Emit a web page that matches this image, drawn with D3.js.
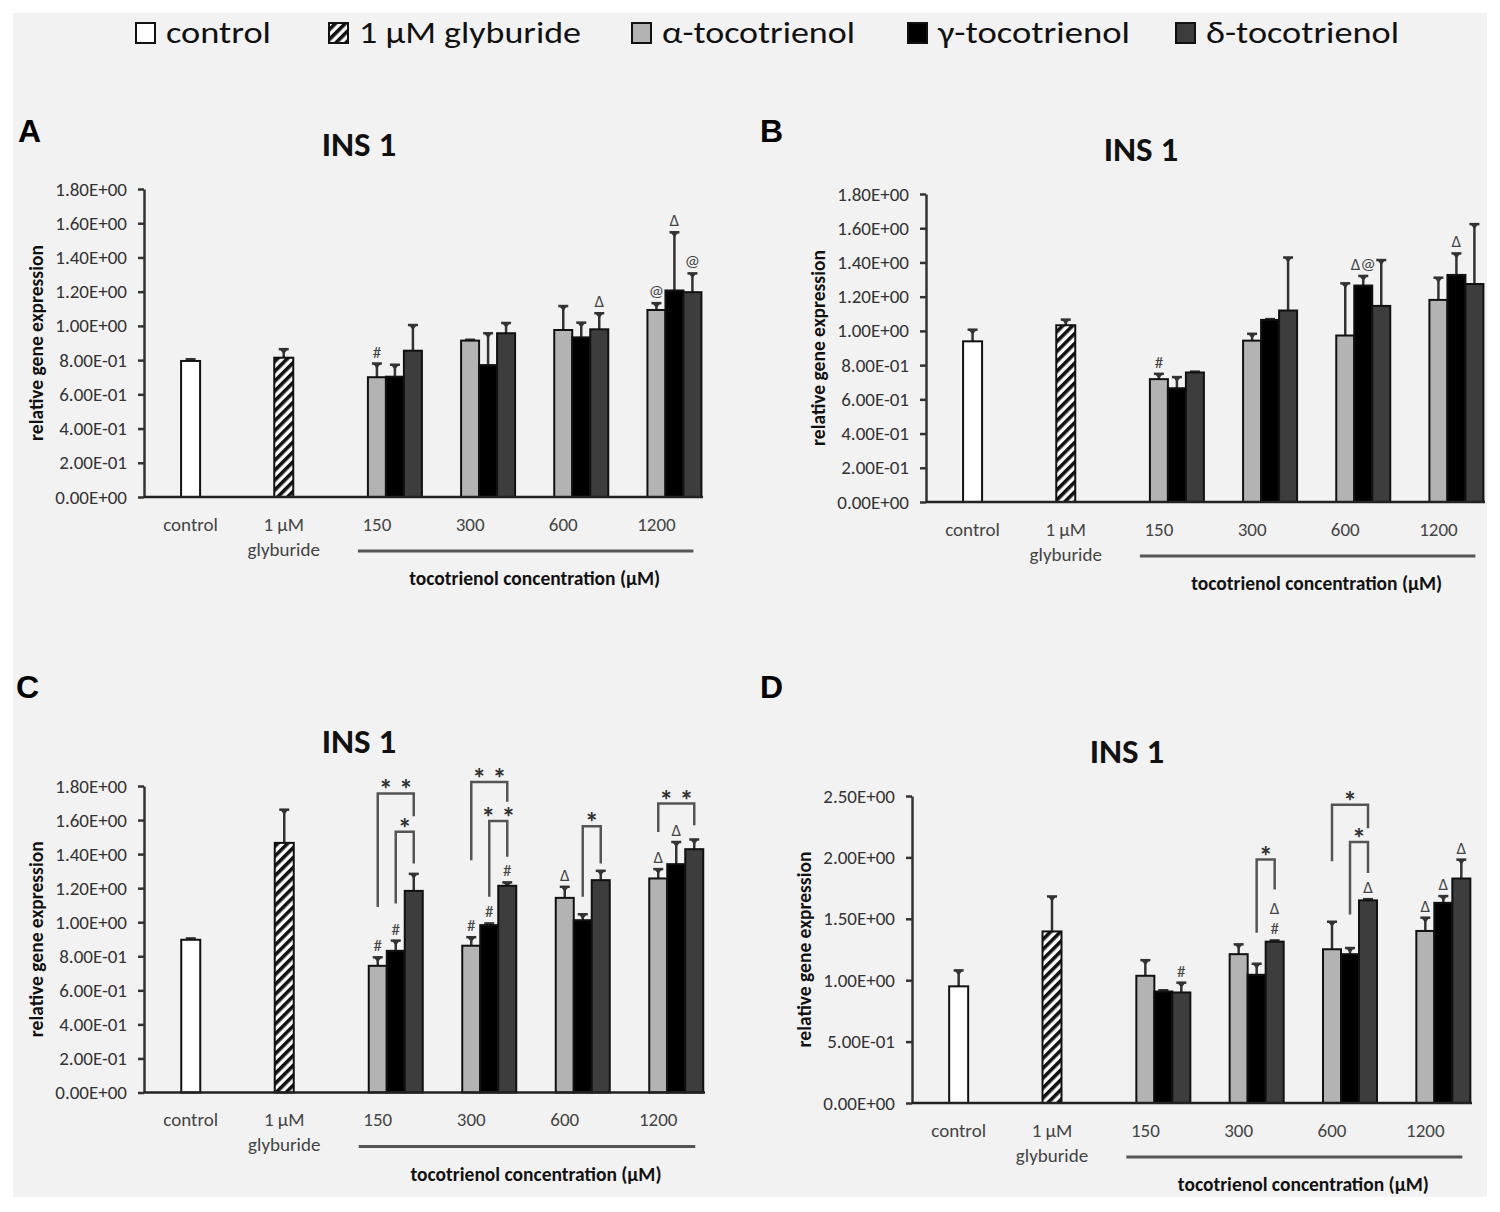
<!DOCTYPE html>
<html>
<head>
<meta charset="utf-8">
<script src="https://cdn.jsdelivr.net/npm/d3@7.9.0/dist/d3.min.js"></script>
<style>
  body { margin: 0; background: #fff; }
  svg { display: block; font-family: "Carlito", "Open Sans", sans-serif; }
</style>
</head>
<body>
<svg id="chart" width="1500" height="1212"></svg>
<script>
// categories on every x axis
const categories = ['control', 'glyburide', '150', '300', '600', '1200'];
const doses = ['150', '300', '600', '1200'];
const legendNames = ['control', '1 µM glyburide', 'α-tocotrienol', 'γ-tocotrienol', 'δ-tocotrienol'];
const ticks18 = [0, 0.2, 0.4, 0.6, 0.8, 1.0, 1.2, 1.4, 1.6, 1.8];
const ticks25 = [0, 0.5, 1.0, 1.5, 2.0, 2.5];

// panel A  (singles = control, glyburide)
const aSingles = [0.795, 0.814];
const aSinglesErr = [0.01, 0.05];
const aAlpha = [0.700, 0.914, 0.976, 1.093];
const aAlphaErr = [0.08, 0.005, 0.14, 0.04];
const aGamma = [0.703, 0.771, 0.933, 1.207];
const aGammaErr = [0.07, 0.186, 0.086, 0.34];
const aDelta = [0.855, 0.957, 0.980, 1.197];
const aDeltaErr = [0.15, 0.06, 0.094, 0.11];
const aMarks = [['150', 0, '#'], ['600', 2, 'Δ'], ['1200', 0, '@'], ['1200', 1, 'Δ'], ['1200', 2, '@']];
const aBrackets = [];

// panel B
const bSingles = [0.939, 1.033];
const bSinglesErr = [0.068, 0.033];
const bAlpha = [0.718, 0.943, 0.973, 1.181];
const bAlphaErr = [0.031, 0.04, 0.305, 0.13];
const bGamma = [0.665, 1.064, 1.265, 1.327];
const bGammaErr = [0.065, 0.005, 0.056, 0.126];
const bDelta = [0.757, 1.119, 1.146, 1.274];
const bDeltaErr = [0.005, 0.31, 0.268, 0.35];
const bMarks = [['150', 0, '#'], ['600', 1, 'Δ@'], ['1200', 1, 'Δ']];
const bBrackets = [];

// panel C
const cSingles = [0.897, 1.466];
const cSinglesErr = [0.008, 0.195];
const cAlpha = [0.744, 0.862, 1.143, 1.257];
const cAlphaErr = [0.05, 0.05, 0.065, 0.055];
const cGamma = [0.832, 0.983, 1.012, 1.341];
const cGammaErr = [0.06, 0.01, 0.035, 0.13];
const cDelta = [1.184, 1.214, 1.247, 1.429];
const cDeltaErr = [0.10, 0.02, 0.055, 0.057];
const cMarks = [['150', 0, '#'], ['150', 1, '#'], ['300', 0, '#'], ['300', 1, '#'], ['300', 2, '#'],
                ['600', 0, 'Δ'], ['1200', 0, 'Δ'], ['1200', 1, 'Δ']];
// [dose, from series, to series, top, left leg bottom, right leg bottom, label]
const cBrackets = [['150', 0, 2, 1.756, 1.09, 1.623, '* *'],
                   ['150', 1, 2, 1.531, 1.11, 1.345, '*'],
                   ['300', 0, 2, 1.824, 1.364, 1.707, '* *'],
                   ['300', 1, 2, 1.595, 1.149, 1.384, '* *'],
                   ['600', 1, 2, 1.564, 1.149, 1.345, '*'],
                   ['1200', 0, 2, 1.697, 1.53, 1.57, '* *']];

// panel D
const dSingles = [0.95, 1.397];
const dSinglesErr = [0.13, 0.285];
const dAlpha = [1.036, 1.212, 1.252, 1.401];
const dAlphaErr = [0.127, 0.08, 0.224, 0.108];
const dGamma = [0.908, 1.044, 1.212, 1.630];
const dGammaErr = [0.01, 0.09, 0.05, 0.055];
const dDelta = [0.900, 1.314, 1.650, 1.828];
const dDeltaErr = [0.08, 0.01, 0.01, 0.154];
const dMarks = [['150', 2, '#'], ['300', 2, '#'], ['300', 2, 'Δ'], ['600', 2, 'Δ'],
                ['1200', 0, 'Δ'], ['1200', 1, 'Δ'], ['1200', 2, 'Δ']];
const dBrackets = [['300', 1, 2, 1.982, 1.387, 1.739, '*'],
                   ['600', 0, 2, 2.428, 1.968, 2.238, '*'],
                   ['600', 1, 2, 2.125, 1.536, 1.873, '*']];

const seriesFill = ['#b3b3b3', '#000000', '#3d3d3d'];

const svg = d3.select('#chart');

// hatch for glyburide
const defs = svg.append('defs');
defs.append('pattern')
  .attr('id', 'hatch')
  .attr('patternUnits', 'userSpaceOnUse')
  .attr('width', 7).attr('height', 7)
  .attr('patternTransform', 'rotate(45)')
  .call(p => {
    p.append('rect').attr('width', 7).attr('height', 7).attr('fill', '#fff');
    p.append('rect').attr('width', 3.6).attr('height', 7).attr('fill', '#111');
  });

// page background
svg.append('rect').attr('x', 13).attr('y', 13).attr('width', 1474).attr('height', 1184).attr('fill', '#f2f2f2');

// legend
const legendX = [136, 329, 632, 908, 1176];
const legendTextLen = [105, 222, 193, 192, 193];
const legendFill = ['#fff', 'url(#hatch)', seriesFill[0], seriesFill[1], seriesFill[2]];
legendNames.forEach((name, i) => {
  svg.append('rect')
    .attr('x', legendX[i]).attr('y', 23).attr('width', 19).attr('height', 20)
    .attr('fill', legendFill[i]).attr('stroke', '#111').attr('stroke-width', 2);
  svg.append('text')
    .attr('x', legendX[i] + 30).attr('y', 43)
    .attr('font-size', 30).attr('fill', '#111')
    .attr('textLength', legendTextLen[i]).attr('lengthAdjust', 'spacingAndGlyphs')
    .text(name);
});

function sci(v) {
  const [m, e] = v.toExponential(2).split('e');
  const n = +e;
  return m.toUpperCase() + 'E' + (n < 0 ? '-' : '+') + String(Math.abs(n)).padStart(2, '0');
}

function drawPanel(p) {
  const g = svg.append('g');
  const x = d3.scalePoint().domain(categories).range([p.x0, p.x1]).padding(0.5);
  const y = d3.scaleLinear().domain([0, p.ymax]).range([p.yBase, p.yTop]);
  const barW = 18;
  const sub = d3.scaleBand().domain([0, 1, 2]).range([0, 3 * barW]);
  const subCenter = (dose, s) => x(dose) - barW / 2 + sub(s) + barW / 2;

  // panel letter + title
  g.append('text').attr('x', p.letterX).attr('y', p.letterY)
    .attr('font-family', 'Liberation Sans, Arial, sans-serif')
    .attr('font-weight', 'bold').attr('font-size', 32).text(p.letter);
  g.append('text').attr('x', p.x0 + 215).attr('y', p.yTop - 33)
    .attr('text-anchor', 'middle').attr('font-weight', 'bold').attr('font-size', 35)
    .attr('fill', '#111').text('INS 1');

  // y axis
  const yAxis = g.append('g').attr('transform', `translate(${p.x0},0)`)
    .call(d3.axisLeft(y).tickValues(p.ticks).tickFormat(sci).tickSize(6).tickSizeOuter(0).tickPadding(11));
  yAxis.select('.domain').attr('stroke', '#333').attr('stroke-width', 2.5);
  yAxis.selectAll('.tick line').attr('stroke', '#333').attr('stroke-width', 2.5);
  yAxis.selectAll('.tick text').attr('font-size', 19).attr('fill', '#333')
    .attr('font-family', 'Carlito, Open Sans, sans-serif');

  g.append('text')
    .attr('transform', `translate(${p.x0 - 108},${(p.yTop + p.yBase) / 2}) rotate(-90)`)
    .attr('text-anchor', 'middle').attr('dy', '0.35em')
    .attr('font-weight', 'bold').attr('font-size', 19.5).attr('fill', '#111')
    .text('relative gene expression');

  // single bars
  const singleFill = ['#fff', 'url(#hatch)'];
  ['control', 'glyburide'].forEach((c, i) => {
    const cx = x(c);
    const v = p.singles[i], e = p.singlesErr[i];
    drawErr(g, cx, y(v), y(v + e));
    g.append('rect').attr('x', cx - 9.5).attr('y', y(v)).attr('width', 19).attr('height', y(0) - y(v))
      .attr('fill', singleFill[i]).attr('stroke', '#111').attr('stroke-width', 2);
  });

  // grouped bars
  const series = [[p.alpha, p.alphaErr], [p.gamma, p.gammaErr], [p.delta, p.deltaErr]];
  series.forEach(([vals, errs], s) => {
    doses.forEach((d, j) => {
      const cx = subCenter(d, s);
      drawErr(g, cx, y(vals[j]), y(vals[j] + errs[j]));
    });
  });
  series.forEach(([vals], s) => {
    doses.forEach((d, j) => {
      g.append('rect')
        .attr('x', x(d) - barW / 2 + sub(s)).attr('y', y(vals[j]))
        .attr('width', barW).attr('height', y(0) - y(vals[j]))
        .attr('fill', seriesFill[s]).attr('stroke', '#111').attr('stroke-width', 2);
    });
  });

  // x baseline
  g.append('line').attr('x1', p.x0).attr('x2', p.x1).attr('y1', y(0)).attr('y2', y(0))
    .attr('stroke', '#222').attr('stroke-width', 2.5);

  // category labels
  categories.forEach(c => {
    const t = g.append('text').attr('x', x(c)).attr('y', y(0) + 33.5)
      .attr('text-anchor', 'middle').attr('font-size', 19).attr('fill', '#444');
    if (c === 'glyburide') {
      t.text('1 µM');
      g.append('text').attr('x', x(c)).attr('y', y(0) + 58.5)
        .attr('text-anchor', 'middle').attr('font-size', 19).attr('fill', '#444').text('glyburide');
    } else {
      t.text(c);
    }
  });

  // dose bracket line + title
  const bx0 = x('150') - barW / 2 - 10;
  const bx1 = x('1200') + 2.5 * barW - 8;
  g.append('line').attr('x1', bx0).attr('x2', bx1).attr('y1', y(0) + 54).attr('y2', y(0) + 54)
    .attr('stroke', '#555').attr('stroke-width', 3);
  g.append('text').attr('x', (bx0 + bx1) / 2 + 9).attr('y', y(0) + 88)
    .attr('text-anchor', 'middle').attr('font-weight', 'bold').attr('font-size', 19.5).attr('fill', '#111')
    .text('tocotrienol concentration (µM)');

  // significance marks over bars (stacked when a bar has more than one)
  const seen = {};
  p.marks.forEach(([d, s, txt]) => {
    const j = doses.indexOf(d);
    const top = series[s][0][j] + series[s][1][j];
    const key = d + '_' + s;
    const k = seen[key] || 0;
    seen[key] = k + 1;
    g.append('text').attr('x', subCenter(d, s)).attr('y', y(top) - 6 - k * 20)
      .attr('text-anchor', 'middle').attr('font-size', 17).attr('fill', '#444').text(txt);
  });

  // comparison brackets
  p.brackets.forEach(([d, s0, s1, top, lb, rb, label]) => {
    const xl = subCenter(d, s0), xr = subCenter(d, s1);
    g.append('path')
      .attr('d', `M${xl},${y(lb)}V${y(top)}H${xr}V${y(rb)}`)
      .attr('fill', 'none').attr('stroke', '#555').attr('stroke-width', 2.5);
    g.append('text').attr('x', (xl + xr) / 2).attr('y', y(top) + 6)
      .attr('text-anchor', 'middle').attr('font-weight', 'bold').attr('font-size', 28).attr('fill', '#333')
      .text(label);
  });
}

function drawErr(g, cx, y0, y1) {
  g.append('line').attr('x1', cx).attr('x2', cx).attr('y1', y0).attr('y2', y1)
    .attr('stroke', '#333').attr('stroke-width', 2.5);
  g.append('line').attr('x1', cx - 5).attr('x2', cx + 5).attr('y1', y1).attr('y2', y1)
    .attr('stroke', '#333').attr('stroke-width', 2.5);
  g.append('path').attr('d', `M${cx - 4},${y1}L${cx + 4},${y1}L${cx},${y1 + 5}Z`).attr('fill', '#333');
}

const panels = [
  { letter: 'A', letterX: 18, letterY: 142, x0: 144, x1: 703, yTop: 189, yBase: 497, ymax: 1.8, ticks: ticks18,
    singles: aSingles, singlesErr: aSinglesErr, alpha: aAlpha, alphaErr: aAlphaErr, gamma: aGamma, gammaErr: aGammaErr,
    delta: aDelta, deltaErr: aDeltaErr, marks: aMarks, brackets: aBrackets },
  { letter: 'B', letterX: 760, letterY: 142, x0: 926, x1: 1485, yTop: 194, yBase: 502, ymax: 1.8, ticks: ticks18,
    singles: bSingles, singlesErr: bSinglesErr, alpha: bAlpha, alphaErr: bAlphaErr, gamma: bGamma, gammaErr: bGammaErr,
    delta: bDelta, deltaErr: bDeltaErr, marks: bMarks, brackets: bBrackets },
  { letter: 'C', letterX: 16, letterY: 698, x0: 144, x1: 705, yTop: 786, yBase: 1092.5, ymax: 1.8, ticks: ticks18,
    singles: cSingles, singlesErr: cSinglesErr, alpha: cAlpha, alphaErr: cAlphaErr, gamma: cGamma, gammaErr: cGammaErr,
    delta: cDelta, deltaErr: cDeltaErr, marks: cMarks, brackets: cBrackets },
  { letter: 'D', letterX: 760, letterY: 698, x0: 912, x1: 1472, yTop: 796, yBase: 1103, ymax: 2.5, ticks: ticks25,
    singles: dSingles, singlesErr: dSinglesErr, alpha: dAlpha, alphaErr: dAlphaErr, gamma: dGamma, gammaErr: dGammaErr,
    delta: dDelta, deltaErr: dDeltaErr, marks: dMarks, brackets: dBrackets }
];

panels.forEach(drawPanel);
</script>
</body>
</html>
